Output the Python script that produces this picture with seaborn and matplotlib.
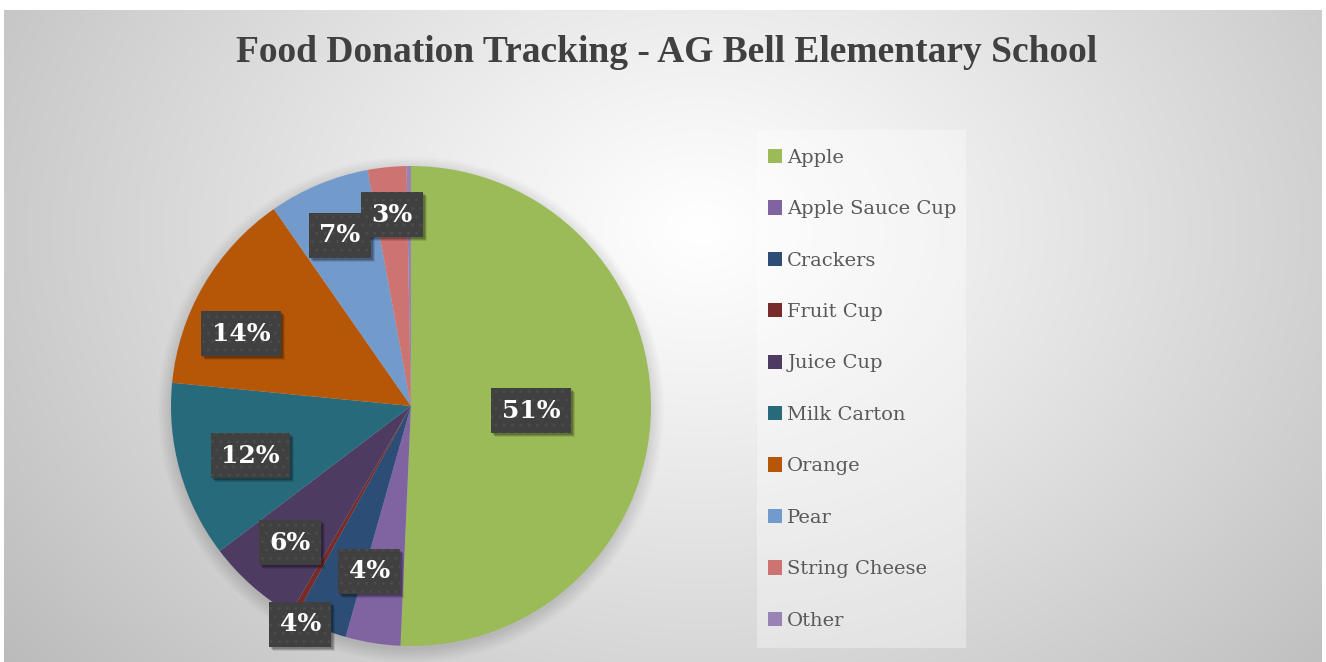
import numpy as np
import matplotlib
matplotlib.use("Agg")
import matplotlib.pyplot as plt
import seaborn as sns
from matplotlib.patches import Patch, Rectangle, Circle
from matplotlib.transforms import IdentityTransform

# ---- data ----
categories = ["Apple", "Apple Sauce Cup", "Crackers", "Fruit Cup", "Juice Cup",
              "Milk Carton", "Orange", "Pear", "String Cheese", "Other"]
values = [50.8, 3.7, 3.6, 0.4, 6.3, 11.9, 13.8, 6.8, 2.6, 0.3]
colors = ["#9BBB59", "#8064A2", "#2C4D75", "#772C2A", "#4D3B62",
          "#276A7C", "#B65708", "#729ACA", "#CD7371", "#9983B5"]
title = "Food Donation Tracking - AG Bell Elementary School"

# label styling: radial distance and angle nudge (deg, clockwise); None = no label
label_dist = [0.50, 0.71, 1.02, None, 0.76, 0.70, 0.77, 0.77, 0.80, None]
label_nudge = [1.0, 5.0, 4.6, 0, 0.0, -1.4, -7.3, 0.0, 0.0, 0]

sns.set_theme(style="white")
plt.rcParams['font.family'] = ['DejaVu Serif']
plt.rcParams['hatch.linewidth'] = 0.9

W, H = 1326, 662
fig = plt.figure(figsize=(W / 100, H / 100), dpi=100)
fig.patch.set_facecolor("white")

# background radial gradient
x0, x1, y0, y1 = 4, 1322, 10, 662
bg = fig.add_axes([x0 / W, 0, (x1 - x0) / W, (y1 - y0) / H], zorder=0)
yy, xx = np.mgrid[y0:y1, x0:x1]
cx, cy = 700, 230
d = np.sqrt(((xx - cx) / 900.0) ** 2 + ((yy - cy) / 700.0) ** 2)
g = 1.0 - 0.27 * np.clip(d, 0, 1.2) ** 1.1
bg.imshow(np.dstack([g, g, g]), aspect="auto", interpolation="bilinear")
bg.axis("off")

# legend box
fig.patches.append(Rectangle((757 / W, 1 - 648 / H), (966 - 757) / W, (648 - 130) / H,
                             transform=fig.transFigure, facecolor="white", alpha=0.35,
                             edgecolor="none", zorder=1))

# pie
cxp, cyp, R = 411, 406, 240
ax = fig.add_axes([(cxp - R) / W, (H - cyp - R) / H, 2 * R / W, 2 * R / H], zorder=2)
ax.patch.set_alpha(0)
for i in range(10):
    ax.add_patch(Circle((0.0, -0.015), 1.0 + 0.006 * i, facecolor="black",
                        alpha=0.012, edgecolor="none", clip_on=False, zorder=0))
wedges, _ = ax.pie(values, colors=colors, startangle=90, counterclock=False,
                   radius=1.0, wedgeprops=dict(linewidth=0, zorder=1))
ax.set_xlim(-1, 1)
ax.set_ylim(-1, 1)
ax.axis("off")

total = sum(values)
labels = []
for w, v, dist, nud in zip(wedges, values, label_dist, label_nudge):
    if dist is None:
        continue
    mid = (w.theta1 + w.theta2) / 2.0 - nud
    x = dist * np.cos(np.deg2rad(mid))
    y = dist * np.sin(np.deg2rad(mid))
    t = ax.text(x, y, f"{round(100 * v / total):d}%", ha="center", va="center",
                color="white", zorder=5, fontsize=18, fontweight="bold",
                family="DejaVu Serif",
                bbox=dict(boxstyle="square,pad=0.42", facecolor="#404040",
                          edgecolor="#4c4c4c", linewidth=0, hatch=".."))
    labels.append(t)

# soft drop shadows behind the label boxes
fig.canvas.draw()
renderer = fig.canvas.get_renderer()
for t in labels:
    ext = t.get_bbox_patch().get_window_extent(renderer)
    for off, a in [(4, 0.10), (3, 0.15), (2, 0.2)]:
        ax.add_patch(Rectangle((ext.x0 + off, ext.y0 - off), ext.width, ext.height,
                               transform=IdentityTransform(), facecolor="black",
                               alpha=a, edgecolor="none", zorder=4, clip_on=False))

# title
fig.text(667 / W, 1 - 52 / H, title, ha="center", va="center", fontsize=27,
         fontweight="bold", color="#404040", family="Liberation Serif")

# legend
handles = [Patch(facecolor=c, edgecolor="none") for c in colors]
leg = fig.legend(handles, categories, loc="upper left",
                 bbox_to_anchor=(758 / W, 1 - 139 / H), frameon=False,
                 fontsize=14, handlelength=0.75, handleheight=0.75,
                 handletextpad=0.25, labelspacing=1.72, borderpad=0)
for txt in leg.get_texts():
    txt.set_color("#595959")
    txt.set_family("DejaVu Serif")

fig.savefig("out.png", dpi=100)
